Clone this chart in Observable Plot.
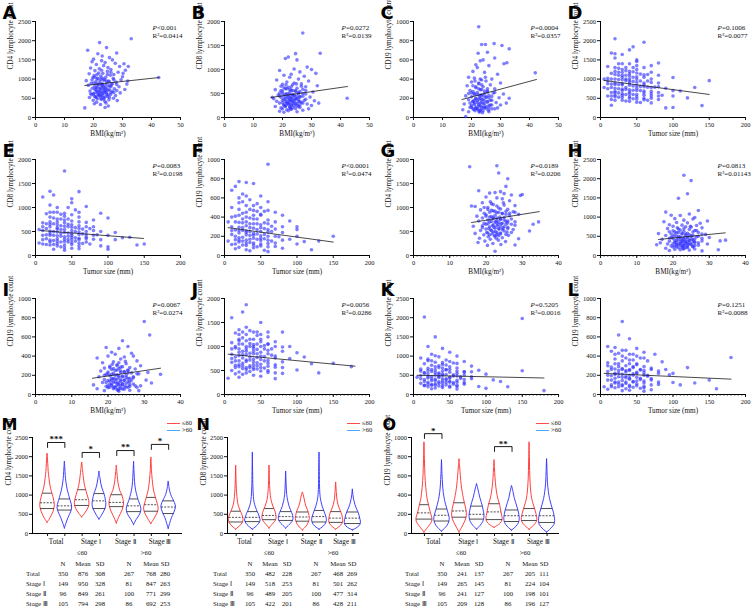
<!DOCTYPE html>
<html><head><meta charset="utf-8">
<script src="https://cdn.jsdelivr.net/npm/d3@7"></script>
<script src="https://cdn.jsdelivr.net/npm/@observablehq/plot@0.6"></script>
<style>
body{margin:0;background:#fff;}
#fig{position:relative;width:753px;height:610px;overflow:hidden;font-family:"Liberation Serif",serif;background:#fff;}
.pn{position:absolute;}
.cell{position:absolute;font:6.8px "Liberation Serif",serif;line-height:10px;height:10px;white-space:nowrap;color:#111;}
.lg{position:absolute;font:6.5px "Liberation Serif",serif;line-height:7px;color:#111;white-space:nowrap;}
.lg span.ln{display:inline-block;width:13px;height:0;border-top:1.6px solid;vertical-align:middle;margin-right:2px;}
</style></head><body><div id="fig"></div><script>
// ---------------- scatter data (outer points + dense core points) ----------------
const ptsA=[[22.1,1950],[24.5,1820],[18,1750],[28,1680],[33,2050],[21.5,1660],[23,1600],[25.5,1560],[20,1520],[26.5,1500],[22.8,1480],[19.5,1450],[24,1430],[27.5,1410],[30.5,1400],[21,1380],[23.5,1350],[29,1330],[25,1300],[19,1290],[22,1270],[26,1250],[31,1230],[20.5,1220],[24.8,1200],[28.5,1180],[21.8,1160],[23.2,1150],[18.5,1140],[27,1120],[25.8,1100],[20.2,1090],[22.5,1080],[30,1060],[24.2,1050],[19.8,1040],[26.8,1020],[21.2,1000],[23.8,990],[29.5,980],[17.5,960],[25.2,950],[22.2,940],[20.8,930],[27.8,920],[24.6,900],[19.2,890],[23,880],[31.5,870],[21.6,860],[26.2,850],[18.2,840],[22.9,830],[25.6,820],[20.4,810],[28.8,800],[23.4,790],[21,780],[24.1,770],[19.6,760],[27.2,750],[22.3,740],[30.8,730],[20.9,720],[25,710],[23.7,700],[18.8,690],[26.5,680],[21.4,670],[24.4,660],[22,650],[29.2,640],[20.1,630],[23.1,620],[25.9,600],[19.4,590],[21.9,580],[27.6,570],[22.6,560],[24.9,550],[20.6,540],[18.6,520],[23.6,510],[26.9,500],[21.3,490],[22.7,470],[25.3,460],[19.9,450],[28.2,440],[23.9,420],[21.1,400],[24.3,380],[20.3,360],[22.4,340],[25.1,300],[17,250],[24,260],[42.5,1040],[32,1330],[30.2,1150],[31.8,950]];
const coreA=[[20.5,1050],[21.5,1020],[22.5,1000],[23.5,970],[24.5,950],[25.5,930],[20,900],[21,880],[22,870],[23,850],[24,840],[25,820],[26,800],[21.5,790],[22.5,770],[23.5,760],[24.5,740],[20.5,730],[25.5,720],[22,710],[23,690],[24,680],[21,660],[26,650],[22.5,640],[23.5,630],[20,610],[24.5,610],[21.5,600],[25,590],[22,570],[23,560],[20.5,550],[24,540],[21,520],[25.5,520],[22.5,500],[23.5,480],[19,620],[27,650],[28,700],[26.5,880],[19.5,980],[23,1030],[24.8,1120],[21.2,1120],[26,1180],[22.8,1230],[27,980],[28,860]];
const ptsB=[[27,1760],[33,1340],[24.5,1330],[22,1260],[25,1200],[21,1230],[19,980],[24,1010],[28.5,1050],[30,1000],[26,950],[31.5,920],[23,900],[20.5,880],[27.5,860],[22.5,840],[25.5,800],[18,780],[29,760],[21.5,740],[24,720],[26.5,700],[20,690],[23.5,680],[32,660],[19.5,650],[28,640],[22,630],[25,610],[21,600],[27,590],[17.5,580],[23,570],[24.5,560],[20,550],[26,540],[30.5,530],[22.5,520],[19,510],[25.5,500],[21.5,495],[28,490],[23.5,480],[18.5,470],[24,460],[20.5,450],[27,445],[22,440],[26,430],[29.5,425],[19.5,420],[23,410],[25,400],[21,395],[17,390],[24.5,380],[22.5,370],[20,360],[27.5,355],[23.5,350],[18,340],[25.5,330],[21.5,320],[26.5,310],[19,300],[22,295],[24,285],[28.5,280],[20.5,270],[23,260],[25,250],[21,240],[17.5,230],[22.5,220],[26,210],[19.5,200],[24.5,190],[20,180],[23,170],[21.5,160],[27,150],[22,140],[19,130],[25,120],[20.5,110],[42.3,400],[31,350],[32.5,300],[30,250],[29,180],[16.5,420]];
const coreB=[[20.5,620],[21.5,600],[22.5,580],[23.5,560],[24.5,540],[25.5,520],[20,500],[21,490],[22,480],[23,470],[24,455],[25,445],[26,430],[21.5,420],[22.5,410],[23.5,400],[24.5,390],[20.5,380],[25.5,375],[22,365],[23,355],[24,345],[21,335],[26,330],[22.5,320],[23.5,310],[20,305],[24.5,300],[21.5,290],[25,280],[22,270],[23,260],[20.5,250],[24,245],[21,230],[25.5,230],[22.5,210],[23.5,200],[19,450],[27,500],[28,560],[26.5,650],[19.5,560],[23,640],[24.8,700],[21.2,680],[26,260],[22.8,180],[27,300],[28,380]];
const ptsC=[[22.5,945],[27.8,770],[23.5,760],[24.8,760],[30.5,750],[33,715],[25.5,680],[22.3,670],[28,620],[21.5,550],[24,600],[23,590],[32.2,570],[31.2,560],[26,540],[22,520],[20.5,480],[24.5,470],[29,450],[19,420],[21,410],[27,400],[23.5,390],[25,380],[20,370],[30,360],[22.5,350],[26.5,340],[18.5,330],[24,320],[21.5,310],[28,300],[23,290],[19.5,280],[25.5,275],[20.5,270],[22,260],[27.5,255],[24.5,250],[31,245],[21,240],[23.5,235],[26,230],[18,225],[22.8,220],[20,215],[25,210],[29.5,205],[23,200],[21.5,195],[24,190],[19,185],[27,180],[22,175],[25.5,170],[20.5,165],[23.5,160],[28.5,155],[21,150],[24.5,145],[17.5,140],[22.5,135],[26.5,130],[20,125],[23,120],[25,115],[21.5,110],[19.5,105],[24,100],[22,95],[27,90],[20.8,85],[23.2,80],[25.8,75],[21.2,70],[22.6,65],[30,130],[32,150],[29,100],[18,10],[42,465],[33,200],[17,80],[19,60],[26,60],[23.8,50]];
const coreC=[[20.5,330],[21.5,320],[22.5,300],[23.5,290],[24.5,275],[25.5,265],[20,255],[21,250],[22,240],[23,235],[24,225],[25,215],[26,205],[21.5,200],[22.5,190],[23.5,185],[24.5,175],[20.5,170],[25.5,160],[22,155],[23,150],[24,140],[21,135],[26,125],[22.5,120],[23.5,110],[20,110],[24.5,105],[21.5,95],[25,95],[22,85],[23,75],[20.5,90],[24,70],[21,180],[25.5,300],[22.5,360],[23.5,340],[19,250],[27,220],[28,260],[26.5,180],[19.5,150],[23,400],[24.8,420],[21.2,380],[26,100],[22.8,55],[27,130],[28,90]];
const ptsD=[[20,2050],[60,1960],[45,1840],[40,1760],[15,1680],[20,1660],[30,1640],[50,1460],[70,1350],[80,1420],[10,1330],[20,1300],[25,1280],[30,1250],[35,1220],[40,1200],[45,1190],[50,1160],[55,1130],[60,1110],[65,1120],[70,1180],[15,1150],[20,1120],[30,1100],[40,1080],[50,1060],[5,1000],[10,1020],[20,1000],[25,990],[30,980],[35,960],[40,950],[45,940],[50,920],[60,900],[70,910],[80,900],[100,1040],[150,960],[10,880],[15,870],[20,860],[30,850],[40,840],[50,830],[55,810],[60,800],[65,790],[75,790],[80,800],[90,760],[130,780],[5,780],[20,760],[25,750],[30,740],[35,730],[40,720],[45,710],[50,700],[60,690],[70,680],[80,650],[100,700],[110,690],[15,650],[20,640],[30,620],[40,610],[50,600],[60,580],[70,560],[85,580],[10,560],[20,540],[25,530],[30,520],[40,500],[45,490],[50,480],[60,460],[65,450],[80,470],[100,560],[120,510],[15,470],[20,450],[35,430],[40,420],[50,400],[55,390],[70,380],[15,320],[90,250],[100,260],[140,310],[30,580],[20,900],[30,1050],[40,1400],[50,1500],[35,1300],[25,1400]];
const coreD=[[10,750],[10,950],[15,1000],[15,780],[20,1200],[20,680],[20,580],[25,860],[25,640],[25,1100],[30,1180],[30,880],[30,700],[30,450],[35,1000],[35,780],[35,600],[40,1140],[40,900],[40,660],[40,540],[45,1050],[45,820],[45,600],[50,1250],[50,1000],[50,760],[50,540],[55,950],[55,700],[60,1050],[60,850],[60,640],[60,500],[65,950],[70,1000],[70,780],[70,620],[80,1100],[80,560],[20,1550],[30,1400],[35,1100],[40,1000],[25,1180],[15,560],[45,1300],[60,1300],[50,1350],[70,500]];
const ptsE=[[40,1760],[20,1340],[60,1330],[25,1260],[10,1220],[50,1180],[50,1100],[70,1020],[20,1050],[30,900],[40,880],[15,870],[35,860],[45,1000],[55,950],[60,900],[90,880],[100,780],[80,740],[20,800],[25,780],[30,760],[40,740],[50,720],[60,700],[70,690],[10,680],[15,660],[20,650],[30,640],[35,620],[40,610],[45,600],[50,590],[55,580],[60,560],[65,550],[75,560],[80,520],[90,500],[110,480],[5,540],[10,520],[20,510],[25,500],[30,490],[40,480],[45,470],[50,460],[60,440],[70,430],[85,430],[100,420],[120,370],[130,380],[15,430],[20,420],[30,410],[35,400],[40,390],[50,380],[55,370],[60,360],[70,350],[80,340],[90,330],[5,260],[10,330],[20,320],[25,310],[30,300],[40,290],[45,280],[50,270],[60,260],[65,250],[75,240],[90,200],[100,180],[100,130],[10,240],[20,220],[30,200],[35,180],[40,160],[50,150],[60,140],[25,130],[40,110],[140,220],[150,240],[110,330],[20,700],[30,550],[50,520]];
const coreE=[[10,600],[10,420],[15,560],[15,350],[20,600],[20,460],[20,280],[25,660],[25,420],[25,230],[30,700],[30,580],[30,350],[30,250],[35,540],[35,460],[35,280],[40,680],[40,540],[40,340],[40,220],[45,650],[45,400],[45,330],[50,640],[50,420],[50,330],[50,230],[55,500],[55,300],[60,620],[60,490],[60,330],[60,200],[65,450],[70,600],[70,380],[70,280],[80,600],[80,420],[20,900],[30,1000],[35,760],[40,820],[25,900],[15,230],[45,760],[60,800],[50,850],[70,500]];
const ptsF=[[60,950],[20,770],[30,760],[40,750],[15,720],[10,680],[25,640],[50,620],[20,600],[35,580],[60,560],[45,540],[30,520],[10,500],[20,480],[40,470],[55,460],[70,450],[25,440],[50,430],[80,420],[15,410],[30,400],[35,390],[40,380],[60,370],[90,360],[5,350],[20,345],[25,340],[45,330],[50,320],[30,310],[65,305],[10,300],[20,295],[35,290],[40,285],[55,280],[70,275],[100,270],[15,265],[25,260],[30,255],[50,250],[60,245],[80,240],[20,235],[40,230],[45,225],[10,220],[30,215],[35,210],[50,205],[60,200],[75,195],[25,190],[20,185],[40,180],[55,175],[90,170],[15,165],[30,160],[50,155],[65,150],[110,145],[20,140],[35,135],[40,130],[60,125],[100,120],[10,115],[25,110],[30,105],[50,100],[70,95],[45,90],[20,85],[40,80],[80,75],[15,70],[30,60],[55,55],[120,60],[150,200],[130,150],[100,200],[5,150],[35,50],[60,40]];
const coreF=[[10,400],[10,260],[15,350],[15,200],[20,420],[20,260],[20,160],[25,380],[25,290],[25,150],[30,450],[30,350],[30,240],[30,130],[35,330],[35,250],[35,170],[40,420],[40,330],[40,210],[40,110],[45,380],[45,270],[45,170],[50,420],[50,290],[50,180],[50,120],[55,340],[55,220],[60,330],[60,270],[60,160],[60,90],[65,250],[70,350],[70,200],[70,130],[80,300],[80,160],[20,550],[30,620],[35,480],[40,520],[25,560],[15,120],[45,460],[60,470],[50,500],[100,300]];
const ptsG=[[15.5,1850],[23,1870],[23.5,1720],[26,1600],[25.5,1440],[18,1350],[21,1300],[22.5,1310],[24,1330],[25,1290],[27,1260],[29.5,1250],[30,1270],[20,1220],[23,1200],[24.5,1180],[26.5,1140],[19,1100],[21.5,1080],[22,1060],[25,1050],[28,1040],[16,1030],[17,1020],[20.5,1000],[23.5,990],[24,970],[26,960],[18.5,950],[22,930],[25.5,920],[27.5,910],[21,900],[23,890],[19.5,880],[24.5,870],[29,860],[20,850],[22.5,840],[26.5,830],[17.5,820],[21.5,810],[23.8,800],[25,790],[19,780],[22,770],[27,760],[24,750],[20.5,740],[23,730],[18,720],[25.5,710],[21,700],[22.8,690],[26,680],[19.5,670],[24.2,660],[20,650],[23.3,640],[28,630],[21.8,620],[16.5,610],[25,600],[22.2,590],[19,580],[24.7,570],[20.8,560],[23.6,550],[27.5,540],[21.3,530],[18.5,520],[22.6,500],[25.8,490],[20.2,480],[24,470],[17,460],[21.7,450],[23.1,440],[19.4,430],[26.2,420],[22.4,400],[20.6,390],[24.5,370],[18.2,360],[21.2,340],[23.4,320],[19.7,300],[25.4,290],[17.8,270],[21.9,250],[24.1,230],[20.4,210],[28,220],[22.5,90],[34.5,700],[32,510],[33,650],[29,350]];
const coreG=[[20.5,960],[21.5,940],[22.5,920],[23.5,900],[24.5,880],[25.5,860],[20,820],[21,800],[22,790],[23,780],[24,760],[25,740],[26,720],[21.5,710],[22.5,700],[23.5,690],[24.5,670],[20.5,660],[25.5,650],[22,640],[23,620],[24,610],[21,600],[26,590],[22.5,570],[23.5,560],[20,550],[24.5,540],[21.5,520],[25,510],[22,490],[23,480],[20.5,470],[24,450],[21,430],[25.5,440],[22.5,420],[23.5,410],[19,620],[27,650],[28,700],[26.5,880],[19.5,1000],[23,1030],[24.8,1100],[21.2,1120],[26,560],[22.8,360],[27,480],[28,900]];
const ptsH=[[23,2090],[25,1950],[24,1610],[21.5,1490],[27,1170],[18,1130],[19.5,1050],[24.5,1080],[22,1040],[26,990],[29.5,900],[20.5,960],[25.5,950],[23,920],[17.5,880],[21,860],[24,850],[27.5,840],[19,800],[22.5,790],[26.5,780],[20,760],[23.5,750],[25,740],[28,720],[18.5,700],[21.5,690],[24.5,680],[22,660],[26,650],[20,640],[23,630],[19,620],[25.5,610],[27,600],[21,590],[24,580],[16,570],[22.5,560],[29,550],[20.5,540],[23.5,530],[18,520],[25,510],[21.5,500],[26.5,490],[24,480],[19.5,470],[22,460],[28,450],[20,440],[23,430],[17,420],[25.5,410],[21,400],[24.5,390],[22.5,380],[19,370],[26,360],[23.5,350],[20.5,340],[16.5,330],[22,320],[25,310],[18.5,300],[24,290],[21,280],[27,270],[23,260],[19.5,250],[22.5,240],[25.5,230],[20,220],[24,210],[21.5,200],[18,190],[23,180],[26,170],[20.5,160],[22,150],[24.5,140],[19,130],[28,120],[34.5,400],[32.5,150],[33,380],[30,470],[29.5,300],[15.5,280]];
const coreH=[[20.5,620],[21.5,600],[22.5,580],[23.5,560],[24.5,540],[25.5,520],[20,500],[21,490],[22,480],[23,470],[24,455],[25,445],[26,430],[21.5,420],[22.5,410],[23.5,400],[24.5,390],[20.5,380],[25.5,375],[22,365],[23,355],[24,345],[21,335],[26,330],[22.5,320],[23.5,310],[20,305],[24.5,300],[21.5,290],[25,280],[22,270],[23,260],[20.5,250],[24,245],[21,230],[25.5,230],[22.5,210],[23.5,200],[19,450],[27,500],[28,560],[26.5,650],[19.5,560],[23,700],[24.8,760],[21.2,720],[26,260],[22.8,170],[27,330],[28,380]];
const ptsI=[[30,760],[31.5,620],[24,560],[19.5,490],[23,480],[25.5,500],[21,440],[17,380],[22,420],[26.5,430],[27,400],[20,400],[24.5,390],[23.5,370],[28,350],[21.5,340],[18.5,330],[25,320],[22.5,310],[29,300],[20.5,295],[24,290],[26,280],[19,275],[23,270],[27.5,265],[21,260],[25.5,255],[22,250],[18,245],[24.5,240],[20,235],[23.5,230],[26.5,225],[21.5,220],[28.5,215],[19.5,210],[22.5,205],[25,200],[20.5,195],[24,190],[17.5,185],[23,180],[27,175],[21,170],[25.5,165],[22,160],[19,155],[24.5,150],[20,145],[23.5,140],[26,135],[21.5,130],[18.5,125],[22.5,120],[25,115],[20.5,110],[24,105],[23,100],[21,95],[27.5,90],[19.5,85],[22,80],[25.5,75],[20,70],[23.5,65],[21.5,60],[24.5,55],[22.5,50],[26,45],[19,40],[23,35],[30.5,150],[32,120],[29,90],[34.5,210],[31,230],[16,100],[17,60],[28.5,40]];
const coreI=[[20.5,280],[21.5,270],[22.5,255],[23.5,245],[24.5,235],[25.5,225],[20,215],[21,210],[22,200],[23,195],[24,185],[25,178],[26,170],[21.5,165],[22.5,158],[23.5,152],[24.5,145],[20.5,140],[25.5,132],[22,128],[23,122],[24,115],[21,110],[26,105],[22.5,98],[23.5,92],[20,90],[24.5,85],[21.5,78],[25,78],[22,70],[23,62],[20.5,75],[24,58],[21,150],[25.5,250],[22.5,300],[23.5,285],[19,200],[27,185],[28,215],[26.5,150],[19.5,125],[23,330],[24.8,345],[21.2,315],[26,85],[22.8,45],[27,110],[28,75]];
const ptsJ=[[30,1870],[25,1720],[10,1600],[50,1500],[20,1350],[35,1330],[40,1300],[15,1280],[30,1250],[45,1230],[60,1200],[25,1180],[50,1150],[20,1120],[70,1100],[10,1080],[35,1060],[40,1040],[55,1020],[30,1000],[80,990],[15,970],[20,950],[45,940],[60,920],[25,900],[50,880],[100,870],[35,860],[40,850],[10,840],[30,830],[65,820],[20,810],[70,800],[55,790],[15,780],[45,770],[25,760],[90,750],[40,740],[50,730],[35,720],[60,710],[20,700],[30,690],[80,680],[10,670],[45,660],[25,650],[120,640],[50,630],[40,620],[15,610],[35,600],[60,590],[20,580],[70,570],[30,560],[55,550],[25,540],[45,530],[40,520],[100,510],[10,500],[50,490],[35,480],[20,470],[60,460],[30,450],[80,440],[15,430],[25,420],[40,400],[50,380],[20,360],[5,340],[70,330],[150,650],[175,580],[130,450],[110,780],[90,1000],[80,1300],[60,1050],[30,950],[20,1050],[40,900]];
const coreJ=[[10,750],[10,950],[15,1000],[15,700],[20,1150],[20,880],[20,620],[25,1050],[25,830],[25,600],[30,1120],[30,900],[30,720],[30,520],[35,1000],[35,780],[35,560],[40,1150],[40,960],[40,680],[40,560],[45,1050],[45,850],[45,600],[50,1250],[50,1000],[50,800],[50,560],[55,950],[55,700],[60,1050],[60,850],[60,650],[60,500],[65,950],[70,1000],[70,760],[70,620],[80,900],[80,560],[20,1250],[30,1400],[35,1150],[40,1000],[25,1300],[15,560],[45,1300],[60,1300],[50,1100],[70,450]];
const ptsK=[[150,1980],[15,2020],[30,1500],[20,1250],[40,1200],[50,1100],[25,1050],[60,1000],[35,980],[10,950],[45,900],[20,880],[70,860],[30,840],[55,820],[15,800],[40,780],[25,760],[80,740],[50,720],[35,700],[60,690],[20,680],[10,660],[45,650],[30,640],[90,630],[150,620],[40,610],[25,600],[70,590],[50,580],[15,570],[35,560],[60,550],[20,540],[100,530],[45,520],[30,510],[40,500],[10,490],[55,480],[25,470],[80,460],[50,450],[35,440],[20,430],[65,420],[40,410],[30,400],[15,390],[45,380],[60,370],[25,360],[50,350],[120,340],[35,330],[20,320],[70,310],[40,300],[10,290],[30,280],[55,270],[25,260],[45,250],[60,240],[15,230],[35,220],[90,210],[20,200],[50,190],[40,180],[30,170],[100,160],[25,150],[60,140],[180,100],[130,200],[110,380],[5,450]];
const coreK=[[10,610],[10,410],[15,550],[15,340],[20,620],[20,470],[20,270],[25,650],[25,410],[25,240],[30,720],[30,570],[30,360],[30,240],[35,530],[35,470],[35,290],[40,690],[40,530],[40,350],[40,230],[45,640],[45,410],[45,320],[50,650],[50,430],[50,320],[50,220],[55,510],[55,310],[60,610],[60,480],[60,320],[60,210],[65,460],[70,590],[70,390],[70,270],[80,590],[80,410],[20,920],[30,1010],[35,750],[40,830],[25,880],[15,240],[45,770],[60,810],[50,860],[70,510]];
const ptsL=[[30,760],[25,620],[40,580],[10,500],[50,480],[20,490],[35,460],[60,440],[15,450],[45,420],[75,420],[30,400],[55,380],[20,370],[40,360],[65,350],[85,340],[10,330],[25,320],[50,310],[35,300],[180,385],[60,290],[15,285],[45,280],[70,275],[30,270],[20,265],[40,260],[120,280],[55,255],[25,250],[80,245],[10,240],[35,235],[50,230],[60,225],[20,220],[45,215],[30,210],[95,205],[40,200],[15,195],[65,190],[25,185],[50,180],[35,175],[20,170],[70,165],[40,160],[55,155],[10,150],[30,145],[60,140],[45,135],[25,130],[100,125],[20,120],[35,115],[50,110],[80,105],[15,100],[40,95],[30,90],[60,85],[25,80],[45,75],[20,70],[55,65],[35,60],[10,55],[70,50],[40,45],[30,40],[60,35],[150,150],[130,120],[110,100],[160,60],[5,80],[90,260]];
const coreL=[[10,300],[10,200],[15,260],[15,150],[20,320],[20,210],[20,130],[25,290],[25,220],[25,110],[30,350],[30,260],[30,180],[30,100],[35,250],[35,190],[35,130],[40,320],[40,250],[40,170],[40,80],[45,290],[45,200],[45,130],[50,320],[50,220],[50,140],[50,90],[55,260],[55,170],[60,250],[60,200],[60,120],[60,70],[65,200],[70,260],[70,150],[70,100],[80,220],[80,130],[20,420],[30,460],[35,380],[40,420],[25,430],[15,80],[45,360],[60,380],[50,400],[100,220]];
// regression line endpoints [x1,y1,x2,y2]
const fitA=[17,833,42.5,1040], fitB=[16,417,42.4,646], fitC=[16.7,187,42.4,396], fitD=[5,965,150,600];
const fitE=[7,520,149,355], fitF=[5,290,150,140], fitG=[16,687,34.7,915], fitH=[16,417,34.4,590];
const fitI=[15.7,169,34.5,274], fitJ=[5,840,180,590], fitK=[5,500,180,430], fitL=[5,220,180,160];
const pLabels=["<0.001","=0.0272","=0.0004","=0.1006","=0.0083","<0.0001","=0.0189","=0.0813","=0.0067","=0.0056","=0.5205","=0.1251"];
const r2Labels=["R²=0.0414","R²=0.0139","R²=0.0357","R²=0.0077","R²=0.0198","R²=0.0474","R²=0.0206","R²=0.01143","R²=0.0274","R²=0.0286","R²=0.0016","R²=0.0088"];
const letters=["A","B","C","D","E","F","G","H","I","J","K","L"];
const yLabels=["CD4 lymphocyte count","CD8 lymphocyte count","CD19 lymphocyte count","CD4 lymphocyte count","CD8 lymphocyte count","CD19 lymphocyte count","CD4 lymphocyte count","CD8 lymphocyte count","CD19 lymphocyte count","CD4 lymphocyte count","CD8 lymphocyte count","CD19 lymphocyte count"];
const xLabels=["BMI(kg/m²)","BMI(kg/m²)","BMI(kg/m²)","Tumor size (mm)","Tumor size (mm)","Tumor size (mm)","BMI(kg/m²)","BMI(kg/m²)","BMI(kg/m²)","Tumor size (mm)","Tumor size (mm)","Tumor size (mm)"];
const yMax=[2500,2000,1000,2500,2000,1000,2000,2500,1000,2000,2500,1000];
const xMax=[50,50,50,200,200,200,40,40,40,200,200,200];
const ticks2500=[0,500,1000,1500,2000,2500], ticks2000=[0,500,1000,1500,2000], ticks1000=[0,200,400,600,800,1000];
const ticks50=[0,10,20,30,40,50], ticks40=[0,10,20,30,40], ticks200=[0,50,100,150,200];

// ---------------- violin data ----------------
const groups=["Total","Stage Ⅰ","Stage Ⅱ","Stage Ⅲ"];
const cd4Prof=[
[[280,0],[350,0.25],[450,0.55],[550,0.8],[650,0.95],[750,1],[850,0.92],[950,0.8],[1050,0.65],[1150,0.5],[1300,0.35],[1450,0.25],[1600,0.16],[1800,0.1],[1950,0.05],[2080,0]],
[[130,0],[250,0.2],[400,0.5],[550,0.85],[650,1],[750,0.95],[850,0.8],[950,0.65],[1050,0.5],[1200,0.32],[1350,0.2],[1500,0.12],[1700,0.06],[1875,0]],
[[420,0],[500,0.35],[600,0.7],[700,0.95],[800,1],[900,0.9],[1000,0.75],[1100,0.6],[1200,0.45],[1350,0.3],[1500,0.2],[1650,0.12],[1850,0]],
[[365,0],[450,0.3],[550,0.6],[650,0.85],[750,0.95],[850,0.9],[950,0.8],[1050,0.65],[1150,0.45],[1300,0.25],[1450,0.12],[1615,0]],
[[260,0],[400,0.3],[500,0.55],[600,0.8],[700,0.95],[800,1],[900,0.9],[1000,0.75],[1100,0.5],[1250,0.3],[1400,0.18],[1600,0.08],[1770,0]],
[[220,0],[350,0.35],[450,0.7],[550,0.95],[650,1],[750,0.85],[850,0.65],[950,0.5],[1100,0.3],[1250,0.18],[1450,0.1],[1650,0.05],[1870,0]],
[[250,0],[350,0.35],[450,0.65],[550,0.9],[650,1],[750,0.9],[850,0.75],[950,0.6],[1050,0.45],[1200,0.3],[1400,0.18],[1650,0.08],[1980,0]],
[[120,0],[250,0.2],[400,0.45],[500,0.7],[600,0.9],[700,1],[800,0.85],[900,0.6],[1000,0.35],[1150,0.15],[1355,0]]];
const cd4Quart=[[650,800,1050],[610,720,900],[730,880,1140],[650,850,1040],[700,810,1010],[570,720,900],[580,750,940],[520,690,850]];
const cd8Prof=[
[[100,0],[180,0.5],[260,0.9],[340,1.05],[420,1],[500,0.85],[600,0.6],[700,0.4],[800,0.28],[950,0.18],[1150,0.1],[1400,0.05],[1770,0]],
[[100,0],[180,0.55],[260,0.95],[340,1.1],[420,1],[500,0.85],[600,0.6],[700,0.4],[800,0.25],[950,0.15],[1200,0.08],[1600,0.04],[2110,0]],
[[130,0],[220,0.4],[300,0.8],[380,1],[460,1],[540,0.9],[620,0.75],[700,0.55],[800,0.38],[900,0.25],[1050,0.15],[1300,0.07],[1770,0]],
[[130,0],[220,0.5],[300,0.9],[380,1.05],[460,1],[540,0.85],[620,0.65],[720,0.45],[850,0.28],[1000,0.15],[1250,0.07],[1615,0]],
[[80,0],[150,0.4],[220,0.7],[300,0.9],[380,1],[460,0.95],[540,0.85],[620,0.7],[700,0.5],[800,0.35],[900,0.25],[1000,0.12],[1070,0]],
[[100,0],[180,0.6],[260,0.95],[340,1.05],[420,1],[500,0.85],[600,0.65],[700,0.45],[820,0.28],[950,0.16],[1200,0.08],[1600,0.04],[2110,0]],
[[100,0],[170,0.5],[250,0.9],[330,1],[410,0.95],[490,0.85],[570,0.7],[650,0.5],[750,0.32],[880,0.18],[1050,0.1],[1330,0]],
[[80,0],[150,0.7],[230,1.1],[310,1.15],[390,1.05],[470,0.95],[550,0.8],[650,0.55],[750,0.35],[880,0.18],[1000,0.08],[1150,0]]];
const cd8Quart=[[300,420,580],[310,420,570],[360,470,650],[340,440,570],[320,430,560],[300,440,600],[290,400,570],[260,400,560]];
const cd19Prof=[
[[10,0],[60,0.5],[100,0.9],[140,1.1],[180,1],[220,0.85],[260,0.72],[300,0.6],[350,0.45],[400,0.35],[500,0.22],[600,0.13],[750,0.07],[950,0]],
[[20,0],[60,0.55],[100,0.9],[140,1.05],[180,1],[220,0.85],[260,0.7],[300,0.55],[350,0.4],[420,0.25],[500,0.15],[620,0.07],[765,0]],
[[10,0],[60,0.35],[110,0.7],[160,0.95],[210,1],[260,0.9],[310,0.75],[360,0.6],[420,0.45],[500,0.3],[600,0.18],[700,0.08],[775,0]],
[[40,0],[80,0.5],[120,0.85],[160,1],[200,1],[240,0.9],[280,0.8],[320,0.65],[370,0.45],[420,0.3],[470,0.15],[515,0]],
[[60,0],[100,0.8],[140,1.1],[180,1.05],[220,0.95],[260,0.85],[300,0.75],[350,0.55],[400,0.4],[480,0.25],[580,0.13],[680,0.06],[765,0]],
[[30,0],[70,0.6],[110,0.95],[150,1.05],[190,1],[230,0.9],[270,0.75],[320,0.55],[370,0.35],[430,0.2],[495,0]],
[[40,0],[80,0.6],[120,1],[160,1.05],[200,0.95],[240,0.8],[280,0.65],[330,0.45],[400,0.28],[500,0.16],[650,0.08],[800,0.04],[950,0]],
[[10,0],[50,0.6],[90,1],[130,1.1],[170,1.05],[210,0.95],[250,0.8],[300,0.6],[360,0.4],[430,0.25],[530,0.12],[650,0.06],[775,0]]];
const cd19Quart=[[150,215,300],[130,190,255],[170,235,320],[150,200,285],[145,225,310],[125,185,245],[135,185,260],[115,185,260]];
const cd4Brackets=[[0,1,2370,"***"],[2,3,2110,"*"],[4,5,2160,"**"],[6,7,2320,"*"]];
const cd8Brackets=[];
const cd19Brackets=[[0,1,1040,"*"],[4,5,905,"**"]];
const tableRows=["Total","Stage Ⅰ","Stage Ⅱ","Stage Ⅲ"];
const cd4Le60=[[350,876,308],[149,950,328],[96,849,261],[105,794,298]];
const cd4Gt60=[[267,768,280],[81,847,263],[100,771,299],[86,692,253]];
const cd8Le60=[[350,482,228],[149,518,253],[96,489,205],[105,422,201]];
const cd8Gt60=[[267,468,269],[81,501,262],[100,477,314],[86,428,211]];
const cd19Le60=[[350,241,137],[149,265,145],[96,241,127],[105,209,128]];
const cd19Gt60=[[267,205,111],[81,224,104],[100,198,101],[86,196,127]];

// ---------------- drawing ----------------
const fig=document.getElementById("fig");
const RED="#ff2b2b", BLUE="#2b2bff";
const STYLE={fontFamily:"Liberation Serif",fontSize:"6.5px",background:"none",overflow:"visible",color:"#111"};
function place(el,left,top){const d=document.createElement("div");d.className="pn";d.style.left=left+"px";d.style.top=top+"px";d.appendChild(el);fig.appendChild(d);}
const fmt=d=>String(d);
const allPts=[ptsA.concat(coreA),ptsB.concat(coreB),ptsC.concat(coreC),ptsD.concat(coreD),ptsE.concat(coreE),ptsF.concat(coreF),ptsG.concat(coreG),ptsH.concat(coreH),ptsI.concat(coreI),ptsJ.concat(coreJ),ptsK.concat(coreK),ptsL.concat(coreL)];
const allFits=[fitA,fitB,fitC,fitD,fitE,fitF,fitG,fitH,fitI,fitJ,fitK,fitL];

function scatterPanel(i){
  const pts=allPts[i], f=allFits[i];
  const ym=yMax[i], xm=xMax[i];
  const yt=ym===2500?ticks2500:ym===2000?ticks2000:ticks1000;
  const xt=xm===50?ticks50:xm===40?ticks40:ticks200;
  const minor=(i>=6)?d3.range(0,xm+0.001,xm/40):null;
  const marks=[
    Plot.ruleY([0],{stroke:"#000",strokeWidth:1}),
    Plot.ruleX([0],{stroke:"#000",strokeWidth:1}),
    Plot.axisY({ticks:yt,tickSize:3,tickPadding:1.5,tickFormat:fmt,label:null}),
    Plot.axisX({ticks:xt,tickSize:3,tickPadding:2,tickFormat:fmt,label:null})
  ];
  if(minor) marks.push(Plot.axisX({ticks:minor,tickSize:1.5,text:null,label:null}));
  marks.push(
    Plot.dot(pts,{x:d=>d[0],y:d=>d[1],r:1.8,fill:"#3030ff",fillOpacity:0.62,stroke:"none"}),
    Plot.line([[f[0],f[1]],[f[2],f[3]]],{x:d=>d[0],y:d=>d[1],stroke:"#1a1a1a",strokeWidth:0.8}),
    Plot.text([letters[i]],{frameAnchor:"top-left",dx:-33,dy:-3,lineAnchor:"bottom",text:d=>d,fontFamily:"DejaVu Sans",fontWeight:"bold",fontSize:18,fill:"#000"}),
    Plot.text([yLabels[i]],{frameAnchor:"left",rotate:-90,dx:-25,text:d=>d,fontSize:7.2}),
    Plot.text([xLabels[i]],{frameAnchor:"bottom",dy:18,text:d=>d,fontSize:7.2}),
    Plot.text(["P"],{frameAnchor:"top-right",textAnchor:"start",dx:-28,dy:4,fontStyle:"italic",text:d=>d,fontSize:7}),
    Plot.text([pLabels[i]],{frameAnchor:"top-right",textAnchor:"start",dx:-23.5,dy:4,text:d=>d,fontSize:7}),
    Plot.text([r2Labels[i]],{frameAnchor:"top-right",textAnchor:"start",dx:-28,dy:12,text:d=>d,fontSize:7})
  );
  return Plot.plot({width:188,height:140,marginLeft:35,marginRight:8,marginTop:21,marginBottom:23,
    x:{domain:[0,xm]},y:{domain:[0,ym]},style:STYLE,marks});
}
const colLeft=[0,189,378,565], rowTop=[0,138,277];
for(let i=0;i<12;i++) place(scatterPanel(i),colLeft[i%4],rowTop[Math.floor(i/4)]);

const VW=0.42;
function widthAt(prof,v){for(let k=1;k<prof.length;k++){const [a,wa]=prof[k-1],[b,wb]=prof[k];if(v<=b)return wa+(wb-wa)*(v-a)/(b-a);}return 0;}
function violinPanel(o){
  const rows=[],lines=[];
  o.prof.forEach((prof,i)=>{
    prof.forEach(([y,w])=>rows.push({id:i,red:i%2===0,y,x1:i-w*VW,x2:i+w*VW}));
    o.quart[i].forEach((q,k)=>{const w=widthAt(prof,q)*VW;lines.push({y:q,x1:i-w,x2:i+w,k});});
  });
  const br=[];
  o.brackets.forEach(([a,b,y],j)=>{br.push({j,x:a,y:y-o.drop},{j,x:a,y},{j,x:b,y},{j,x:b,y:y-o.drop});});
  const marks=[
    Plot.ruleY([0],{stroke:"#000",strokeWidth:1}),
    Plot.ruleX([o.xd[0]],{stroke:"#000",strokeWidth:1}),
    Plot.axisY({ticks:o.yt,tickSize:3,tickPadding:1.5,tickFormat:fmt,label:null}),
    Plot.axisX({ticks:d3.range(8),tickSize:3,text:null,label:null}),
    Plot.areaX(rows.filter(d=>d.red),{y:"y",x1:"x1",x2:"x2",z:"id",fill:"none",stroke:RED,strokeWidth:0.9,curve:"catmull-rom"}),
    Plot.areaX(rows.filter(d=>!d.red),{y:"y",x1:"x1",x2:"x2",z:"id",fill:"none",stroke:BLUE,strokeWidth:0.9,curve:"catmull-rom"}),
    Plot.ruleY(lines.filter(d=>d.k!==1),{y:"y",x1:"x1",x2:"x2",stroke:"#222",strokeWidth:0.8}),
    Plot.ruleY(lines.filter(d=>d.k===1),{y:"y",x1:"x1",x2:"x2",stroke:"#222",strokeWidth:0.8,strokeDasharray:"2,1.3"}),
    Plot.line(br,{x:"x",y:"y",z:"j",stroke:"#000",strokeWidth:0.9}),
    Plot.text(o.brackets,{x:d=>(d[0]+d[1])/2,y:d=>d[2],text:d=>d[3],dy:-3,fontSize:9,fontWeight:"bold"}),
    Plot.text(groups,{x:(d,i)=>2*i+0.5,frameAnchor:"bottom",dy:10,text:d=>d,fontSize:7.2}),
    Plot.text([o.letter],{frameAnchor:"top-left",dx:o.ldx,dy:-8,lineAnchor:"bottom",text:d=>d,fontFamily:"DejaVu Sans",fontWeight:"bold",fontSize:16,fill:"#000"}),
    Plot.text([o.ylab],{frameAnchor:"left",rotate:-90,dx:-24,text:d=>d,fontSize:7.2})
  ];
  return Plot.plot({width:188,height:195,marginLeft:32,marginRight:o.mr,marginTop:22,marginBottom:77,
    x:{domain:o.xd},y:{domain:[0,o.ym]},style:STYLE,marks});
}
const vCfg=[
  {prof:cd4Prof,quart:cd4Quart,brackets:cd4Brackets,drop:130,ym:2500,yt:ticks2500,xd:[-0.87,7.8],mr:6,letter:"M",ldx:-31,ylab:"CD4 lymphocyte count",left:0,le:cd4Le60,gt:cd4Gt60,tab:0,leg:167},
  {prof:cd8Prof,quart:cd8Quart,brackets:cd8Brackets,drop:130,ym:2500,yt:ticks2500,xd:[-0.52,7.4],mr:24,letter:"N",ldx:-31,ylab:"CD8 lymphocyte count",left:195,le:cd8Le60,gt:cd8Gt60,tab:187,leg:347},
  {prof:cd19Prof,quart:cd19Quart,brackets:cd19Brackets,drop:50,ym:1000,yt:ticks1000,xd:[-0.74,7.71],mr:8,letter:"O",ldx:-29,ylab:"CD19 lymphocyte count",left:379,le:cd19Le60,gt:cd19Gt60,tab:379,leg:536}
];
function cell(x,y,t,anchor){const s=document.createElement("div");s.className="cell";s.textContent=t;s.style.top=(y-5)+"px";s.style.left=x+"px";if(anchor==="c")s.style.transform="translateX(-50%)";fig.appendChild(s);}
vCfg.forEach(o=>{
  place(violinPanel(o),o.left,415);
  const L=o.tab, cols=[63,83,100,129,151,165];
  cell(L+82,553,"≤60","c"); cell(L+146,553,">60","c");
  ["N","Mean","SD","N","Mean","SD"].forEach((h,k)=>cell(L+cols[k],564,h,"c"));
  tableRows.forEach((r,ri)=>{
    cell(L+26,574+ri*10,r);
    [...o.le[ri],...o.gt[ri]].forEach((v,k)=>cell(L+cols[k],574+ri*10,String(v),"c"));
  });
  const lg=document.createElement("div");lg.className="lg";lg.style.left=o.leg+"px";lg.style.top="419px";
  lg.innerHTML='<div><span class="ln" style="border-color:#ff4d4d"></span>≤60</div><div><span class="ln" style="border-color:#4da6ff"></span>&gt;60</div>';
  fig.appendChild(lg);
});
</script></body></html>
